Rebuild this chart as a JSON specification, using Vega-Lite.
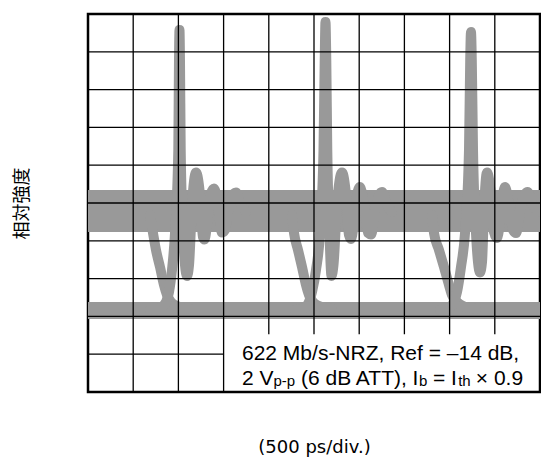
{
  "$schema": "https://vega.github.io/schema/vega-lite/v6.json",
  "width": 452,
  "height": 378,
  "autosize": {"type": "none"},
  "padding": {"left": 88, "top": 14, "right": 1, "bottom": 76},
  "background": "white",
  "config": {
    "view": {"stroke": "#000", "strokeWidth": 2.5},
    "axis": {"labels": false, "ticks": false, "domain": false, "grid": false, "titleColor": "#000", "titleFontWeight": "normal"}
  },
  "datasets": {
    "bands": [
      {"x": 0, "x2": 10, "y": 4.233, "y2": 5.344},
      {"x": 0, "x2": 10, "y": 1.931, "y2": 2.381}
    ],
    "wave": [
      {"trace": "f1", "i": 1, "x": 1.372, "y": 4.683},
      {"trace": "f1", "i": 2, "x": 1.438, "y": 4.206},
      {"trace": "f1", "i": 3, "x": 1.504, "y": 3.757},
      {"trace": "f1", "i": 4, "x": 1.593, "y": 3.307},
      {"trace": "f1", "i": 5, "x": 1.681, "y": 2.831},
      {"trace": "f1", "i": 6, "x": 1.748, "y": 2.566},
      {"trace": "f1", "i": 7, "x": 1.836, "y": 2.381},
      {"trace": "f1", "i": 8, "x": 1.969, "y": 2.275},
      {"trace": "f1", "i": 9, "x": 2.257, "y": 2.196},
      {"trace": "r1", "i": 1, "x": 1.372, "y": 2.169},
      {"trace": "r1", "i": 2, "x": 1.593, "y": 2.222},
      {"trace": "r1", "i": 3, "x": 1.726, "y": 2.381},
      {"trace": "r1", "i": 4, "x": 1.792, "y": 2.646},
      {"trace": "r1", "i": 5, "x": 1.858, "y": 3.228},
      {"trace": "r1", "i": 6, "x": 1.925, "y": 4.206},
      {"trace": "r1", "i": 7, "x": 1.998, "y": 6.402},
      {"trace": "r1", "i": 8, "x": 2.013, "y": 8.783},
      {"trace": "r1", "i": 9, "x": 2.024, "y": 9.577},
      {"trace": "r1", "i": 10, "x": 2.035, "y": 8.783},
      {"trace": "r1", "i": 11, "x": 2.051, "y": 6.402},
      {"trace": "r1", "i": 12, "x": 2.102, "y": 4.206},
      {"trace": "r1", "i": 13, "x": 2.146, "y": 3.36},
      {"trace": "r1", "i": 14, "x": 2.19, "y": 3.069},
      {"trace": "r1", "i": 15, "x": 2.235, "y": 3.36},
      {"trace": "r1", "i": 16, "x": 2.301, "y": 4.947},
      {"trace": "r1", "i": 17, "x": 2.389, "y": 5.807},
      {"trace": "r1", "i": 18, "x": 2.478, "y": 5.212},
      {"trace": "r1", "i": 19, "x": 2.544, "y": 4.101},
      {"trace": "r1", "i": 20, "x": 2.577, "y": 4.034},
      {"trace": "r1", "i": 21, "x": 2.633, "y": 4.418},
      {"trace": "r1", "i": 22, "x": 2.71, "y": 5.212},
      {"trace": "r1", "i": 23, "x": 2.788, "y": 5.384},
      {"trace": "r1", "i": 24, "x": 2.876, "y": 4.947},
      {"trace": "r1", "i": 25, "x": 2.965, "y": 4.22},
      {"trace": "r1", "i": 26, "x": 3.031, "y": 4.286},
      {"trace": "r1", "i": 27, "x": 3.142, "y": 5.079},
      {"trace": "r1", "i": 28, "x": 3.274, "y": 5.278},
      {"trace": "r1", "i": 29, "x": 3.385, "y": 4.947},
      {"trace": "r1", "i": 30, "x": 3.496, "y": 4.762},
      {"trace": "f2", "i": 1, "x": 4.513, "y": 4.683},
      {"trace": "f2", "i": 2, "x": 4.558, "y": 4.206},
      {"trace": "f2", "i": 3, "x": 4.646, "y": 3.757},
      {"trace": "f2", "i": 4, "x": 4.735, "y": 3.307},
      {"trace": "f2", "i": 5, "x": 4.823, "y": 2.831},
      {"trace": "f2", "i": 6, "x": 4.889, "y": 2.566},
      {"trace": "f2", "i": 7, "x": 4.978, "y": 2.381},
      {"trace": "f2", "i": 8, "x": 5.111, "y": 2.275},
      {"trace": "f2", "i": 9, "x": 5.398, "y": 2.196},
      {"trace": "r2", "i": 1, "x": 4.58, "y": 2.169},
      {"trace": "r2", "i": 2, "x": 4.779, "y": 2.222},
      {"trace": "r2", "i": 3, "x": 4.889, "y": 2.381},
      {"trace": "r2", "i": 4, "x": 4.956, "y": 2.646},
      {"trace": "r2", "i": 5, "x": 5.044, "y": 3.228},
      {"trace": "r2", "i": 6, "x": 5.133, "y": 4.206},
      {"trace": "r2", "i": 7, "x": 5.21, "y": 6.402},
      {"trace": "r2", "i": 8, "x": 5.237, "y": 8.783},
      {"trace": "r2", "i": 9, "x": 5.254, "y": 9.788},
      {"trace": "r2", "i": 10, "x": 5.272, "y": 8.783},
      {"trace": "r2", "i": 11, "x": 5.294, "y": 6.402},
      {"trace": "r2", "i": 12, "x": 5.343, "y": 4.206},
      {"trace": "r2", "i": 13, "x": 5.365, "y": 3.439},
      {"trace": "r2", "i": 14, "x": 5.387, "y": 3.069},
      {"trace": "r2", "i": 15, "x": 5.431, "y": 3.36},
      {"trace": "r2", "i": 16, "x": 5.509, "y": 4.947},
      {"trace": "r2", "i": 17, "x": 5.619, "y": 5.807},
      {"trace": "r2", "i": 18, "x": 5.708, "y": 5.212},
      {"trace": "r2", "i": 19, "x": 5.774, "y": 4.153},
      {"trace": "r2", "i": 20, "x": 5.819, "y": 4.048},
      {"trace": "r2", "i": 21, "x": 5.885, "y": 4.497},
      {"trace": "r2", "i": 22, "x": 5.951, "y": 5.212},
      {"trace": "r2", "i": 23, "x": 6.018, "y": 5.423},
      {"trace": "r2", "i": 24, "x": 6.106, "y": 4.947},
      {"trace": "r2", "i": 25, "x": 6.195, "y": 4.206},
      {"trace": "r2", "i": 26, "x": 6.261, "y": 4.167},
      {"trace": "r2", "i": 27, "x": 6.372, "y": 4.947},
      {"trace": "r2", "i": 28, "x": 6.504, "y": 5.291},
      {"trace": "r2", "i": 29, "x": 6.615, "y": 4.947},
      {"trace": "r2", "i": 30, "x": 6.726, "y": 4.762},
      {"trace": "f3", "i": 1, "x": 7.611, "y": 4.683},
      {"trace": "f3", "i": 2, "x": 7.655, "y": 4.206},
      {"trace": "f3", "i": 3, "x": 7.765, "y": 3.757},
      {"trace": "f3", "i": 4, "x": 7.876, "y": 3.307},
      {"trace": "f3", "i": 5, "x": 7.987, "y": 2.831},
      {"trace": "f3", "i": 6, "x": 8.053, "y": 2.566},
      {"trace": "f3", "i": 7, "x": 8.164, "y": 2.381},
      {"trace": "f3", "i": 8, "x": 8.296, "y": 2.275},
      {"trace": "f3", "i": 9, "x": 8.584, "y": 2.196},
      {"trace": "r3", "i": 1, "x": 7.788, "y": 2.169},
      {"trace": "r3", "i": 2, "x": 7.987, "y": 2.222},
      {"trace": "r3", "i": 3, "x": 8.097, "y": 2.381},
      {"trace": "r3", "i": 4, "x": 8.164, "y": 2.646},
      {"trace": "r3", "i": 5, "x": 8.252, "y": 3.307},
      {"trace": "r3", "i": 6, "x": 8.341, "y": 4.206},
      {"trace": "r3", "i": 7, "x": 8.429, "y": 6.402},
      {"trace": "r3", "i": 8, "x": 8.456, "y": 8.783},
      {"trace": "r3", "i": 9, "x": 8.473, "y": 9.524},
      {"trace": "r3", "i": 10, "x": 8.491, "y": 8.783},
      {"trace": "r3", "i": 11, "x": 8.518, "y": 6.402},
      {"trace": "r3", "i": 12, "x": 8.584, "y": 4.206},
      {"trace": "r3", "i": 13, "x": 8.628, "y": 3.439},
      {"trace": "r3", "i": 14, "x": 8.673, "y": 3.161},
      {"trace": "r3", "i": 15, "x": 8.717, "y": 3.439},
      {"trace": "r3", "i": 16, "x": 8.761, "y": 4.815},
      {"trace": "r3", "i": 17, "x": 8.827, "y": 5.807},
      {"trace": "r3", "i": 18, "x": 8.916, "y": 5.212},
      {"trace": "r3", "i": 19, "x": 8.982, "y": 4.233},
      {"trace": "r3", "i": 20, "x": 9.049, "y": 4.074},
      {"trace": "r3", "i": 21, "x": 9.115, "y": 4.497},
      {"trace": "r3", "i": 22, "x": 9.181, "y": 5.212},
      {"trace": "r3", "i": 23, "x": 9.226, "y": 5.423},
      {"trace": "r3", "i": 24, "x": 9.314, "y": 4.947},
      {"trace": "r3", "i": 25, "x": 9.403, "y": 4.286},
      {"trace": "r3", "i": 26, "x": 9.469, "y": 4.206},
      {"trace": "r3", "i": 27, "x": 9.58, "y": 4.947},
      {"trace": "r3", "i": 28, "x": 9.723, "y": 5.291},
      {"trace": "r3", "i": 29, "x": 9.845, "y": 4.947},
      {"trace": "r3", "i": 30, "x": 9.956, "y": 4.762}
    ],
    "grid": [
      {"x": 1, "x2": 1, "y": 0, "y2": 10},
      {"x": 2, "x2": 2, "y": 0, "y2": 10},
      {"x": 3, "x2": 3, "y": 0, "y2": 10},
      {"x": 4, "x2": 4, "y": 1.53, "y2": 10},
      {"x": 5, "x2": 5, "y": 1.53, "y2": 10},
      {"x": 6, "x2": 6, "y": 1.53, "y2": 10},
      {"x": 7, "x2": 7, "y": 1.53, "y2": 10},
      {"x": 8, "x2": 8, "y": 1.53, "y2": 10},
      {"x": 9, "x2": 9, "y": 1.53, "y2": 10},
      {"x": 0, "x2": 3, "y": 1, "y2": 1},
      {"x": 0, "x2": 10, "y": 2, "y2": 2},
      {"x": 0, "x2": 10, "y": 3, "y2": 3},
      {"x": 0, "x2": 10, "y": 4, "y2": 4},
      {"x": 0, "x2": 10, "y": 5, "y2": 5},
      {"x": 0, "x2": 10, "y": 6, "y2": 6},
      {"x": 0, "x2": 10, "y": 7, "y2": 7},
      {"x": 0, "x2": 10, "y": 8, "y2": 8},
      {"x": 0, "x2": 10, "y": 9, "y2": 9}
    ],
    "notes": [
      {"txt": "622 Mb/s-NRZ, Ref = –14 dB,", "x": 3.407, "y": 0.847, "role": "main"},
      {"txt": "2 V", "x": 3.407, "y": 0.185, "role": "main"},
      {"txt": "p-p", "x": 4.104, "y": 0.16, "role": "sub"},
      {"txt": "(6 dB ATT), I", "x": 4.712, "y": 0.185, "role": "main"},
      {"txt": "b", "x": 7.323, "y": 0.16, "role": "sub"},
      {"txt": "= I", "x": 7.633, "y": 0.185, "role": "main"},
      {"txt": "th", "x": 8.19, "y": 0.16, "role": "sub"},
      {"txt": "× 0.9", "x": 8.58, "y": 0.185, "role": "main"}
    ]
  },
  "encoding": {
    "x": {"field": "x", "type": "quantitative", "scale": {"domain": [0, 10], "nice": false, "zero": false},
      "axis": {"title": "(500 ps/div.)", "titleFont": "DejaVu Sans", "titleFontSize": 18, "titlePadding": 46}},
    "y": {"field": "y", "type": "quantitative", "scale": {"domain": [0, 10], "nice": false, "zero": false},
      "axis": {"title": "相対強度", "titleFont": "Noto Sans CJK JP", "titleFontSize": 18, "titlePadding": 57}}
  },
  "layer": [
    {
      "data": {"name": "bands"},
      "mark": {"type": "rect", "color": "#999999"},
      "encoding": {"x2": {"field": "x2"}, "y2": {"field": "y2"}}
    },
    {
      "data": {"name": "wave"},
      "mark": {"type": "line", "color": "#999999", "strokeWidth": 10, "strokeCap": "round", "strokeJoin": "round", "interpolate": "monotone", "clip": true},
      "encoding": {"detail": {"field": "trace"}, "order": {"field": "i", "type": "quantitative"}}
    },
    {
      "data": {"name": "grid"},
      "mark": {"type": "rule", "color": "#000", "strokeWidth": 1.3},
      "encoding": {"x2": {"field": "x2"}, "y2": {"field": "y2"}}
    },
    {
      "data": {"name": "notes"},
      "transform": [{"filter": "datum.role === 'main'"}],
      "mark": {"type": "text", "font": "Liberation Sans", "fontSize": 21, "align": "left", "baseline": "alphabetic", "color": "#000"},
      "encoding": {"text": {"field": "txt"}}
    },
    {
      "data": {"name": "notes"},
      "transform": [{"filter": "datum.role === 'sub'"}],
      "mark": {"type": "text", "font": "Liberation Sans", "fontSize": 15, "align": "left", "baseline": "alphabetic", "color": "#000"},
      "encoding": {"text": {"field": "txt"}}
    }
  ]
}
